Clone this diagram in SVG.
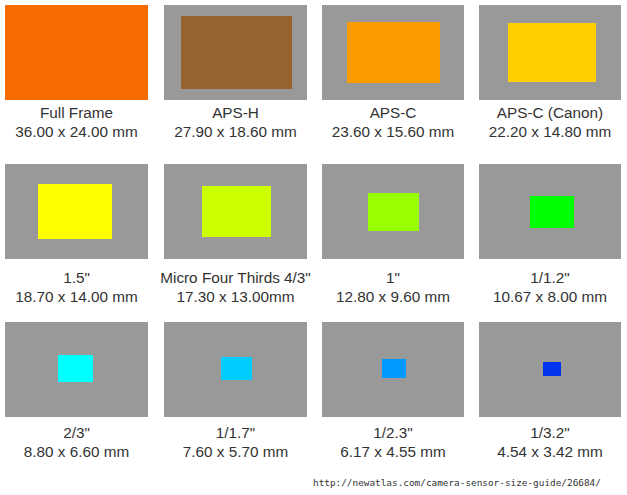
<svg xmlns="http://www.w3.org/2000/svg" width="627" height="495" viewBox="0 0 627 495">
<style>
.bg{fill:#999999}
.t{font-family:"Liberation Sans",Arial,sans-serif;font-size:15.3px;fill:#333333;text-anchor:middle}
.u{font-family:"DejaVu Sans Mono","Liberation Mono",monospace;font-size:9.4px;fill:#333333}
</style>
<rect width="627" height="495" fill="#ffffff"/>
<g id="full-frame">
<rect x="5" y="5" width="143" height="95" fill="#f56b00"/>
<text class="t" x="76.5" y="118">Full Frame</text>
<text class="t" x="76.5" y="137">36.00 x 24.00 mm</text>
</g>
<g id="aps-h">
<rect class="bg" x="164" y="5" width="143" height="95"/>
<rect x="181" y="16" width="111" height="73" fill="#956230"/>
<text class="t" x="235.5" y="118">APS-H</text>
<text class="t" x="235.5" y="137">27.90 x 18.60 mm</text>
</g>
<g id="aps-c">
<rect class="bg" x="322" y="5" width="142" height="95"/>
<rect x="347" y="22" width="93" height="61" fill="#fb9c00"/>
<text class="t" x="393" y="118">APS-C</text>
<text class="t" x="393" y="137">23.60 x 15.60 mm</text>
</g>
<g id="aps-c-canon">
<rect class="bg" x="479" y="5" width="142" height="95"/>
<rect x="508" y="23" width="88" height="59" fill="#ffcf00"/>
<text class="t" x="550" y="118">APS-C (Canon)</text>
<text class="t" x="550" y="137">22.20 x 14.80 mm</text>
</g>
<g id="one-five">
<rect class="bg" x="5" y="164" width="143" height="95"/>
<rect x="38" y="184" width="74" height="55" fill="#ffff00"/>
<text class="t" x="76.5" y="283">1.5"</text>
<text class="t" x="76.5" y="302">18.70 x 14.00 mm</text>
</g>
<g id="mft">
<rect class="bg" x="164" y="164" width="143" height="95"/>
<rect x="202" y="186" width="69" height="51" fill="#ccff00"/>
<text class="t" x="235.5" y="283">Micro Four Thirds 4/3"</text>
<text class="t" x="235.5" y="302">17.30 x 13.00mm</text>
</g>
<g id="one-inch">
<rect class="bg" x="322" y="164" width="142" height="95"/>
<rect x="368" y="193" width="51" height="38" fill="#99ff00"/>
<text class="t" x="393" y="283">1"</text>
<text class="t" x="393" y="302">12.80 x 9.60 mm</text>
</g>
<g id="one-1-2">
<rect class="bg" x="479" y="164" width="142" height="95"/>
<rect x="530" y="196" width="44" height="32" fill="#00ff00"/>
<text class="t" x="550" y="283">1/1.2"</text>
<text class="t" x="550" y="302">10.67 x 8.00 mm</text>
</g>
<g id="two-thirds">
<rect class="bg" x="5" y="322" width="143" height="95"/>
<rect x="58" y="355" width="35" height="27" fill="#00ffff"/>
<text class="t" x="76.5" y="438">2/3"</text>
<text class="t" x="76.5" y="457">8.80 x 6.60 mm</text>
</g>
<g id="one-1-7">
<rect class="bg" x="164" y="322" width="143" height="95"/>
<rect x="221" y="357" width="31" height="23" fill="#00ccff"/>
<text class="t" x="235.5" y="438">1/1.7"</text>
<text class="t" x="235.5" y="457">7.60 x 5.70 mm</text>
</g>
<g id="one-2-3">
<rect class="bg" x="322" y="322" width="142" height="95"/>
<rect x="382" y="359" width="24" height="19" fill="#0099ff"/>
<text class="t" x="393" y="438">1/2.3"</text>
<text class="t" x="393" y="457">6.17 x 4.55 mm</text>
</g>
<g id="one-3-2">
<rect class="bg" x="479" y="322" width="142" height="95"/>
<rect x="543" y="362" width="18" height="14" fill="#0033ee"/>
<text class="t" x="550" y="438">1/3.2"</text>
<text class="t" x="550" y="457">4.54 x 3.42 mm</text>
</g>
<g id="connectors"/>
<text class="u" x="313" y="486">http://newatlas.com/camera-sensor-size-guide/26684/</text>
</svg>
